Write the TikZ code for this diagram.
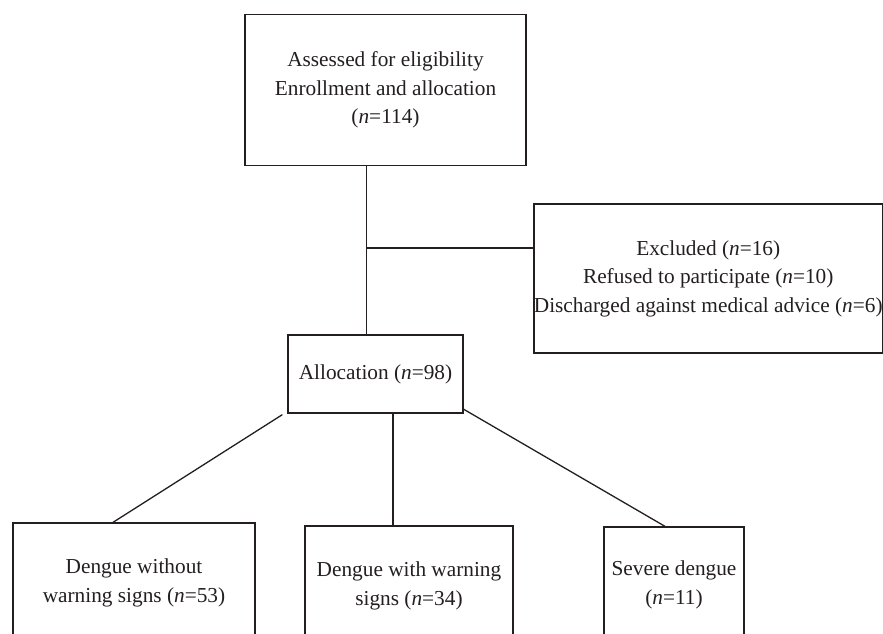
\documentclass[tikz,border=0pt]{standalone}
\usepackage{fontspec}
\setmainfont{Liberation Serif}
\usetikzlibrary{calc}
\definecolor{ink}{HTML}{231F20}
\begin{document}
\begin{tikzpicture}[x=1pt,y=-1pt,
  box/.style={draw=ink,line width=1.3pt,inner sep=0pt,align=center,text=ink,
    font=\fontsize{21.3}{28.5}\selectfont},
  conn/.style={draw=ink,line width=1.3pt}]
\useasboundingbox (0,0) rectangle (883,634);
\clip (0,0) rectangle (883,634);
\node[box,minimum width=281pt,minimum height=151pt] (top) at (385.5,90)
  {Assessed for eligibility\\Enrollment and allocation\\(\textit{n}=114)};
\node[box,minimum width=348.5pt,minimum height=149pt] (excl) at (708.25,278.5)
  {Excluded (\textit{n}=16)\\Refused to participate (\textit{n}=10)\\Discharged against medical advice (\textit{n}=6)};
\node[box,minimum width=175pt,minimum height=78pt] (alloc) at (375.5,374)
  {Allocation (\textit{n}=98)};
\node[box,minimum width=242pt,minimum height=120pt] (b1) at (134,583)
  {Dengue without\\warning signs (\textit{n}=53)};
\node[box,minimum width=208pt,minimum height=120pt] (b2) at (409,586)
  {Dengue with warning\\signs (\textit{n}=34)};
\node[box,minimum width=140pt,minimum height=116pt] (b3) at (674,585)
  {Severe dengue\\(\textit{n}=11)};
\coordinate (v) at (366.7,0);
\coordinate (h) at (0,248);
\coordinate (m) at (393,0);
\coordinate (l) at (113,0);
\coordinate (r) at (665,0);
\draw[conn] (top.south -| v) -- (alloc.north -| v);
\draw[conn] (v |- h) -- (excl.west |- h);
\draw[conn] ($(alloc.south west)+(-5,1)$) -- (b1.north -| l);
\draw[conn] (alloc.south -| m) -- (b2.north -| m);
\draw[conn] ($(alloc.south east)+(-1,-5)$) -- (b3.north -| r);
\end{tikzpicture}
\end{document}
